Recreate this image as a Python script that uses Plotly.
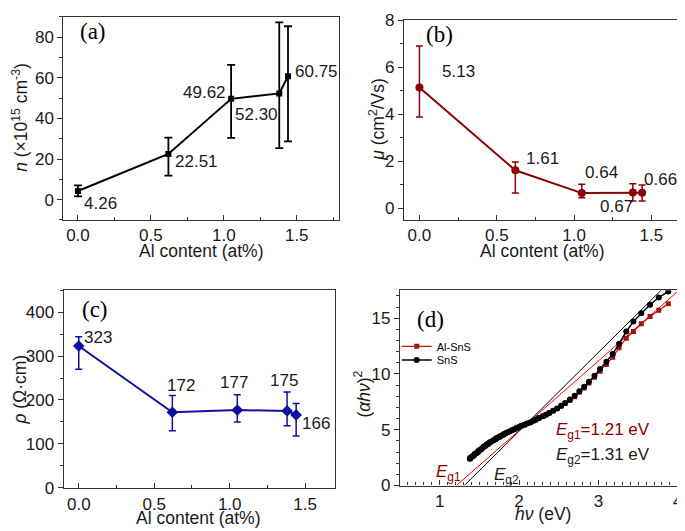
import plotly.graph_objects as go

# ---------------- data ----------------
al_content = [0, 0.62, 1.05, 1.38, 1.44]

n_vals = [4.26, 22.51, 49.62, 52.30, 60.75]
n_err_plus = [2.8, 8.0, 16.7, 35.0, 24.6]
n_err_minus = [2.7, 10.7, 19.2, 26.9, 32.1]

mu_vals = [5.13, 1.61, 0.64, 0.67, 0.66]
mu_err_plus = [1.77, 0.35, 0.38, 0.37, 0.33]
mu_err_minus = [1.25, 0.97, 0.20, 0.37, 0.36]

rho_vals = [323, 172, 177, 175, 166]
rho_err_plus = [21, 38, 35, 43, 26]
rho_err_minus = [53, 42, 27, 34, 48]

photon_energy = [1.38, 1.39, 1.41, 1.43, 1.44, 1.46, 1.48, 1.49, 1.51, 1.53,
                 1.55, 1.57, 1.59, 1.61, 1.63, 1.65, 1.68, 1.70, 1.72, 1.75,
                 1.77, 1.80, 1.82, 1.85, 1.88, 1.91, 1.94, 1.97, 2.00, 2.03,
                 2.07, 2.10, 2.14, 2.18, 2.21, 2.25, 2.30, 2.34, 2.38, 2.43,
                 2.48, 2.53, 2.58, 2.64, 2.70, 2.76, 2.82, 2.88, 2.95, 3.02,
                 3.10, 3.18, 3.26, 3.35, 3.44, 3.54, 3.65, 3.76, 3.88]
sns_abs = [2.40, 2.50, 2.60, 2.70, 2.80, 2.90, 3.00, 3.10, 3.20, 3.30,
           3.45, 3.55, 3.65, 3.75, 3.85, 3.95, 4.05, 4.15, 4.25, 4.35,
           4.45, 4.55, 4.65, 4.75, 4.85, 4.95, 5.05, 5.15, 5.25, 5.35,
           5.45, 5.55, 5.65, 5.80, 5.90, 6.05, 6.20, 6.35, 6.50, 6.70,
           6.90, 7.15, 7.40, 7.70, 8.05, 8.45, 8.85, 9.30, 9.85, 10.45,
           11.10, 11.80, 12.70, 13.80, 14.70, 15.45, 16.20, 16.85, 17.40]
alsns_abs = [2.40, 2.50, 2.60, 2.70, 2.80, 2.90, 3.00, 3.10, 3.20, 3.30,
             3.45, 3.55, 3.65, 3.75, 3.85, 3.95, 4.05, 4.15, 4.25, 4.35,
             4.45, 4.55, 4.65, 4.75, 4.85, 4.95, 5.05, 5.15, 5.25, 5.35,
             5.45, 5.55, 5.65, 5.80, 5.90, 6.05, 6.20, 6.35, 6.50, 6.70,
             6.90, 7.12, 7.35, 7.62, 7.95, 8.35, 8.75, 9.20, 9.70, 10.25,
             10.85, 11.50, 12.35, 13.20, 13.80, 14.50, 15.15, 15.70, 16.30]

band_gaps = [1.21, 1.31]          # Eg1 (Al-SnS), Eg2 (SnS)
tangent_slopes = [6.24, 7.06]
tangent_top = 17.5

# ---------------- styling ----------------
FONT = "Liberation Sans, Arial, sans-serif"
SERIF = "Liberation Serif, Times New Roman, serif"
W, H = 685, 531
AXC = "#333333"
RED_D = "#8B0000"
BLUE = "#1010A0"
TXT = "#1a1a1a"


def px(x0, x1):
    return [x0 / W, x1 / W]


def py(top, bottom):
    return [1 - bottom / H, 1 - top / H]


fig = go.Figure()

# (a)
fig.add_trace(go.Scatter(
    x=al_content, y=n_vals, mode="lines+markers", xaxis="x", yaxis="y",
    line=dict(color="black", width=2), marker=dict(symbol="square", size=6, color="black"),
    error_y=dict(type="data", array=n_err_plus, arrayminus=n_err_minus,
                 color="black", thickness=1.8, width=4),
    showlegend=False))
# (b)
fig.add_trace(go.Scatter(
    x=al_content, y=mu_vals, mode="lines+markers", xaxis="x2", yaxis="y2",
    line=dict(color=RED_D, width=2), marker=dict(symbol="circle", size=8, color=RED_D),
    error_y=dict(type="data", array=mu_err_plus, arrayminus=mu_err_minus,
                 color=RED_D, thickness=1.5, width=3.5),
    showlegend=False))
# (c)
fig.add_trace(go.Scatter(
    x=al_content, y=rho_vals, mode="lines+markers", xaxis="x3", yaxis="y3",
    line=dict(color=BLUE, width=2), marker=dict(symbol="diamond", size=9, color=BLUE),
    error_y=dict(type="data", array=rho_err_plus, arrayminus=rho_err_minus,
                 color=BLUE, thickness=1.5, width=3.5),
    showlegend=False))

# (d) tangent lines
for eg, slope, col in zip(band_gaps, tangent_slopes, ["#FF0000", "#000000"]):
    fig.add_trace(go.Scatter(
        x=[eg, eg + tangent_top / slope], y=[0, tangent_top], mode="lines",
        xaxis="x4", yaxis="y4", line=dict(color=col, width=1), showlegend=False))

fig.add_trace(go.Scatter(
    x=photon_energy, y=alsns_abs, mode="lines+markers", name="Al-SnS", legend="legend",
    xaxis="x4", yaxis="y4", line=dict(color="#C01010", width=1.2),
    marker=dict(symbol="square", size=5, color="#A01010")))
fig.add_trace(go.Scatter(
    x=photon_energy, y=sns_abs, mode="lines+markers", name="SnS", legend="legend2",
    xaxis="x4", yaxis="y4", line=dict(color="black", width=1.5),
    marker=dict(symbol="circle", size=6, color="black")))


def axis(domain, rng, dtick, minor_dtick, anchor, tickdir, fmt=None, automargin=True):
    d = dict(domain=domain, range=rng, dtick=dtick, tick0=0, anchor=anchor,
             showline=True, mirror=True, linecolor=AXC, linewidth=1.2,
             ticks=tickdir, ticklen=5, tickcolor=AXC, tickwidth=1,
             minor=dict(dtick=minor_dtick, ticks=tickdir, ticklen=3, tickcolor=AXC),
             showgrid=False, zeroline=False, automargin=automargin,
             tickfont=dict(family=FONT, size=17, color=TXT))
    if fmt:
        d["tickformat"] = fmt
    return d


dom_a = (px(55.7, 333), py(9, 216))
dom_b = (px(398.3, 678.3), py(12, 216))
dom_c = (px(56, 329.3), py(287.7, 489.3))
dom_d = (px(394.3, 674), py(287.7, 486.7))

legend_common = dict(xanchor="left", yanchor="top", bgcolor="rgba(0,0,0,0)",
                     font=dict(family=FONT, size=11, color="black"), itemwidth=30)

fig.update_layout(
    width=W, height=H, margin=dict(l=0, r=0, t=0, b=0),
    paper_bgcolor="white", plot_bgcolor="white",
    xaxis=axis(dom_a[0], [-0.1, 1.79], 0.5, 0.25, "y", "inside", ".1f"),
    yaxis=axis(dom_a[1], [-10, 90], 20, 10, "x", "outside"),
    xaxis2=axis(dom_b[0], [-0.1, 1.7], 0.5, 0.25, "y2", "inside", ".1f"),
    yaxis2=axis(dom_b[1], [-0.5, 8.01], 2, 1, "x2", "outside", automargin=False),
    xaxis3=axis(dom_c[0], [-0.1, 1.7], 0.5, 0.25, "y3", "inside", ".1f"),
    yaxis3=axis(dom_c[1], [-0.8, 450], 100, 50, "x3", "outside"),
    xaxis4=axis(dom_d[0], [0.5, 4.003], 1, 0.1, "y4", "inside"),
    yaxis4=axis(dom_d[1], [0, 17.5], 5, 1, "x4", "outside"),
    legend=dict(x=391 / W, y=1 - 330 / H, **legend_common),
    legend2=dict(x=391 / W, y=1 - 344 / H, **legend_common),
)

ann = []


def label(xref, yref, x, y, text, dx, dy, size=17, color=TXT, family=FONT):
    ann.append(dict(xref=xref, yref=yref, x=x, y=y, text=text, showarrow=False,
                    xshift=dx, yshift=dy, font=dict(family=family, size=size, color=color)))


# data labels
shifts_a = [(23, -13), (28, -8), (-27, 6), (-23, -21), (28, 5)]
for x, v, (dx, dy) in zip(al_content, n_vals, shifts_a):
    label("x", "y", x, v, f"{v:.2f}", dx, dy)
shifts_b = [(39, 16), (27, 12), (20, 21), (-16, -14), (18, 13)]
for x, v, (dx, dy) in zip(al_content, mu_vals, shifts_b):
    label("x2", "y2", x, v, f"{v:.2f}", dx, dy)
shifts_c = [(19, 9), (9, 27), (-3, 28), (-3, 30), (20, -9)]
for x, v, (dx, dy) in zip(al_content, rho_vals, shifts_c):
    label("x3", "y3", x, v, f"{v:.0f}", dx, dy)


def paper(x, y, text, size=17.5, color=TXT, family=FONT, angle=0, xanchor="center"):
    ann.append(dict(xref="paper", yref="paper", x=x / W, y=1 - y / H, text=text,
                    showarrow=False, textangle=angle, xanchor=xanchor, yanchor="middle",
                    font=dict(family=family, size=size, color=color)))


# panel letters
paper(86, 24, "(a)", size=23, family=SERIF, color="black")
paper(434, 27, "(b)", size=23, family=SERIF, color="black")
paper(87.5, 307, "(c)", size=23, family=SERIF, color="black")
paper(425, 317, "(d)", size=23, family=SERIF, color="black")

# axis titles
paper(195, 248, "Al content (at%)")
paper(538, 248, "Al content (at%)")
paper(192, 520, "Al content (at%)")
paper(538, 516, "<i>h</i><i>ν</i> (eV)")
paper(12, 111, "<i>n</i> (×10<sup>15</sup> cm<sup>-3</sup>)", angle=-90)
paper(371, 113, "<i>μ</i> (cm<sup>2</sup>/Vs)", angle=-90)
paper(12, 389, "<i>ρ</i> (Ω·cm)", angle=-90)
paper(356, 393, "(<i>αhν</i>)<sup>2</sup>", angle=-90)

# band-gap annotations
paper(549, 431, "<i>E</i><sub>g1</sub>=1.21 eV", size=17, color=RED_D, xanchor="left")
paper(549, 457, "<i>E</i><sub>g2</sub>=1.31 eV", size=17, color=TXT, xanchor="left")
paper(428, 474, "<i>E</i><sub>g1</sub>", size=17, color=RED_D, xanchor="left")
paper(487, 477, "<i>E</i><sub>g2</sub>", size=17, color=TXT, xanchor="left")

fig.update_layout(annotations=ann)
fig.write_html("out.html")
